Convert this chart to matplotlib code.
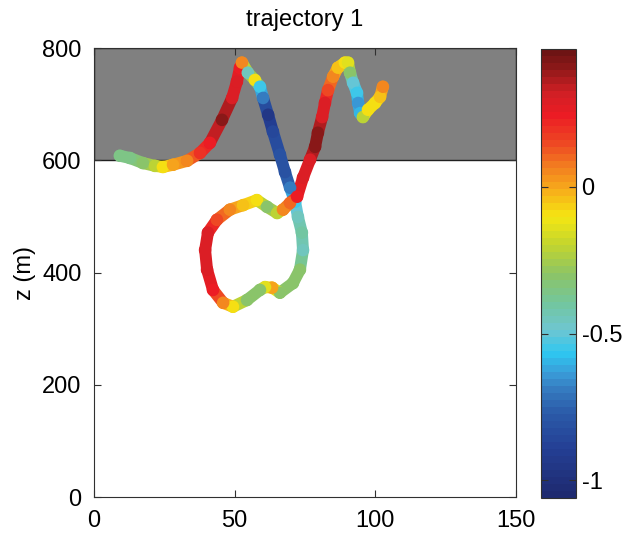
import numpy as np
import matplotlib
matplotlib.use("Agg")
import matplotlib.pyplot as plt
from matplotlib.collections import LineCollection
from matplotlib.colors import LinearSegmentedColormap, Normalize
from matplotlib.patches import Rectangle

plt.rcParams["font.family"] = ["Liberation Sans", "DejaVu Sans"]

# trajectory: x, z (m) and colour value
traj_x = [9.2, 12.8, 17.4, 21.7, 24.5, 28.1, 33.1, 37.7, 41.2, 45.5,
          49.1, 50.8, 51.9, 52.6, 54.7, 57.2, 59.0, 60.1, 61.9, 63.6,
          66.1, 67.9, 69.7, 71.5, 72.5, 73.9, 74.3, 73.2, 70.7, 66.1,
          63.3, 60.8, 59.0, 54.4, 49.4, 45.9, 42.3, 40.2, 39.5, 40.5,
          43.7, 48.3, 53.0, 57.9, 61.5, 65.1, 67.2, 69.7, 72.2, 74.3,
          76.8, 78.6, 79.6, 81.1, 82.1, 83.2, 85.0, 86.7, 89.2, 90.3,
          91.0, 92.1, 93.5, 93.9, 94.6, 95.6, 97.4, 99.9, 101.7, 102.7]
traj_z = [608, 604, 595, 590, 588, 592, 599, 613, 631, 672,
          711, 740, 765, 774, 756, 743, 731, 711, 681, 651,
          610, 579, 551, 526, 499, 471, 440, 405, 381, 364,
          373, 374, 369, 351, 339, 346, 369, 405, 440, 471,
          494, 512, 520, 529, 517, 506, 512, 524, 535, 569,
          601, 624, 649, 677, 702, 725, 749, 765, 774, 774,
          756, 738, 720, 702, 684, 677, 690, 702, 713, 731]
traj_c = [-0.35, -0.35, -0.3, -0.2, -0.1, 0.0, 0.05, 0.2, 0.25, 0.42,
          0.3, 0.3, 0.25, 0.05, -0.45, -0.1, -0.55, -0.7, -0.95, -0.85,
          -0.8, -0.8, -0.7, -0.55, -0.45, -0.4, -0.45, -0.3, -0.3, -0.3,
          0.0, -0.15, -0.3, -0.3, -0.1, 0.05, 0.25, 0.3, 0.3, 0.28,
          0.15, 0.05, -0.05, -0.1, -0.3, -0.2, 0.05, 0.1, 0.25, 0.3,
          0.3, 0.42, 0.42, 0.3, 0.28, 0.15, 0.05, -0.05, -0.1, -0.15,
          -0.3, -0.5, -0.55, -0.65, -0.6, -0.2, -0.1, -0.1, -0.05, 0.05]

clim = (-1.06, 0.47)
cb_ticks = [-1, -0.5, 0]
cb_ticklabels = ["-1", "-0.5", "0"]

# colour map as seen on the colour bar: (value, colour), bottom -> top
cmap_values = [-1.06, -0.9, -0.78, -0.7, -0.64, -0.57, -0.49, -0.4, -0.3,
               -0.2, -0.1, 0.0, 0.08, 0.15, 0.25, 0.33, 0.42, 0.47]
cmap_colors = ["#1e2a70", "#243f94", "#2b5aa8", "#3579be", "#3a9bd8",
               "#2ec7f0", "#6ec6d2", "#72c6a0", "#8cc466", "#c1d52f",
               "#f5e612", "#f7a81b", "#f27a20", "#ee4a23", "#ec1c24",
               "#d01f25", "#8a1818", "#6e1414"]
norm = Normalize(*clim)
cmap = LinearSegmentedColormap.from_list(
    "traj", list(zip(norm(cmap_values), cmap_colors)), N=64)

fig = plt.figure(figsize=(6.27, 5.40), dpi=100)
ax = fig.add_axes([0.1499, 0.0796, 0.673, 0.8315])
cax = fig.add_axes([0.8628, 0.0778, 0.0558, 0.8315])

# grey band above 600 m
ax.add_patch(Rectangle((0, 600), 150, 200, facecolor="#808080",
                       edgecolor="#202020", linewidth=1.0, zorder=1))

pts = np.column_stack([traj_x, traj_z])
segs = np.stack([pts[:-1], pts[1:]], axis=1)
seg_c = 0.5 * (np.array(traj_c[:-1]) + np.array(traj_c[1:]))
lc = LineCollection(segs, cmap=cmap, norm=norm, linewidths=8.6,
                    capstyle="round", joinstyle="round", zorder=2)
lc.set_array(seg_c)
ax.add_collection(lc)
sc = ax.scatter(traj_x, traj_z, c=traj_c, cmap=cmap, norm=norm, s=82,
                linewidths=0, zorder=3)

ax.set_xlim(0, 150)
ax.set_ylim(0, 800)
ax.set_xticks([0, 50, 100, 150])
ax.set_yticks([0, 200, 400, 600, 800])
ax.tick_params(direction="in", top=True, right=True, length=5,
               labelsize=17, color="#303030", pad=9)
for s in ax.spines.values():
    s.set_color("#303030")
ax.set_ylabel("z (m)", fontsize=17, labelpad=4)
ax.set_title("trajectory 1", fontsize=17, pad=16)

cb = fig.colorbar(sc, cax=cax, ticks=cb_ticks)
cb.ax.set_yticklabels(cb_ticklabels)
cb.ax.tick_params(direction="in", left=True, right=True, length=5,
                  labelsize=17, color="#303030", pad=4)
cb.outline.set_edgecolor("#303030")

fig.savefig("out.png", dpi=100)
